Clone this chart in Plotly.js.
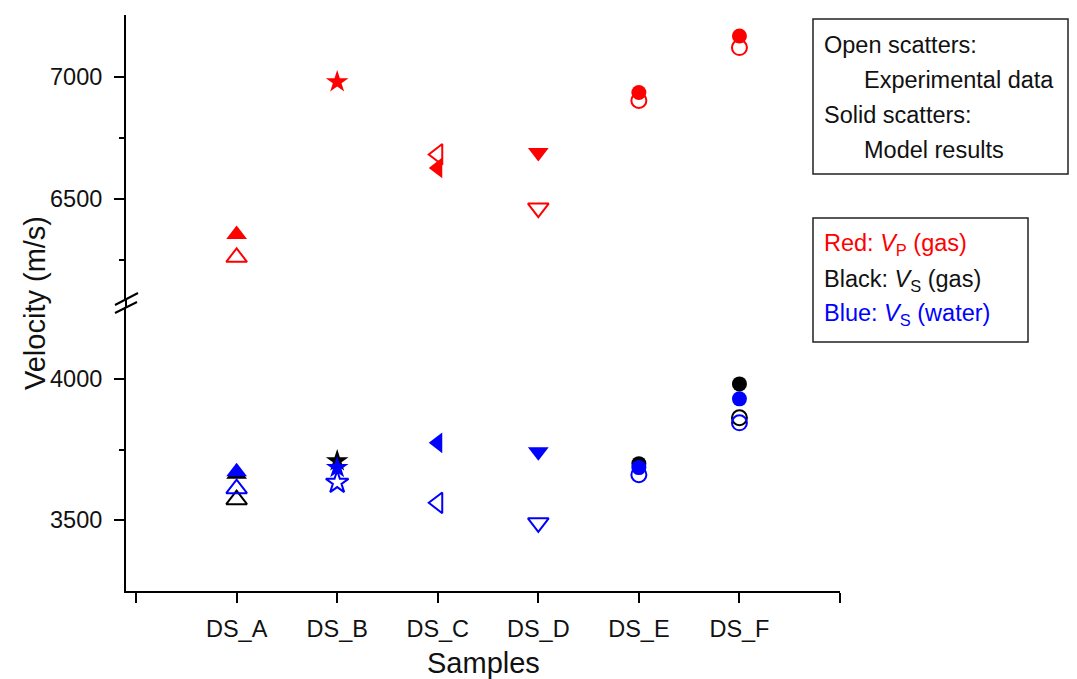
<!DOCTYPE html>
<html>
<head>
<meta charset="utf-8">
<script src="https://cdn.plot.ly/plotly-3.0.1.min.js"></script>
<style>html,body{margin:0;padding:0;background:#fff;}#chart{width:1077px;height:679px;}</style>
</head>
<body>
<div id="chart"></div>
<script>
// ---- data ----
const categories = ['DS_A', 'DS_B', 'DS_C', 'DS_D', 'DS_E', 'DS_F'];
const sampleSymbols = ['triangle-up', 'star', 'triangle-left', 'triangle-down', 'circle', 'circle'];
const xEdgeTicks = [0, 7];
// Red: Vp (gas)
const vpGasExp   = [6262, null, 6682, 6463, 6902, 7118];
const vpGasModel = [6355, 6978, 6627, 6690, 6935, 7165];
// Black: Vs (gas)
const vsGasExp   = [3572, null, null, null, null, 3863];
const vsGasModel = [3662, 3710, null, null, 3700, 3983];
// Blue: Vs (water)
const vsWaterExp   = [3611, 3633, 3561, 3490, 3661, 3845];
const vsWaterModel = [3671, 3686, 3774, 3742, 3686, 3930];
const upperTicks = [6500, 7000];
const upperMinor = [6250, 6750];
const lowerTicks = [3500, 4000];
const lowerMinor = [3750];

// ---- layout helpers ----
const W = 1077, H = 679;
const M = {l: 126, r: 237, t: 15, b: 88};
const PW = W - M.l - M.r, PH = H - M.t - M.b;
const px = x => (x - M.l) / PW;
const py = y => (H - M.b - y) / PH;

const xs = categories.map((c, i) => i + 1);
const RED = '#ff0000', BLACK = '#000000', BLUE = '#0000ff';

function series(vals, color, open, yaxis) {
  return {
    type: 'scatter', mode: 'markers', x: xs, y: vals, yaxis: yaxis,
    showlegend: false, hoverinfo: 'skip', cliponaxis: false,
    marker: {
      symbol: sampleSymbols.map(s => open ? s + '-open' : s),
      size: sampleSymbols.map(s => s === 'circle' ? 15 : (s === 'star' ? 17 : 18)),
      color: color, opacity: 1,
      line: {width: open ? 2 : 0, color: color}
    }
  };
}

const data = [
  series(vsGasExp, BLACK, true, 'y'),
  series(vsGasModel, BLACK, false, 'y'),
  series(vsWaterExp, BLUE, true, 'y'),
  series(vsWaterModel, BLUE, false, 'y'),
  series(vpGasExp, RED, true, 'y2'),
  series(vpGasModel, RED, false, 'y2')
];

const FONT = '"Liberation Sans", Arial, "DejaVu Sans", sans-serif';
const TICKFONT = {family: FONT, size: 23.5, color: '#111'};
const yCommon = {
  showline: true, linecolor: '#000', linewidth: 2,
  ticks: 'outside', ticklen: 10, tickwidth: 2, tickcolor: '#000',
  showgrid: false, zeroline: false, tickmode: 'array',
  tickfont: TICKFONT, ticklabelstandoff: 7, anchor: 'x', fixedrange: true
};

const shapes = [
  // axis segment across the break
  {type: 'line', xref: 'paper', yref: 'paper', x0: 0, x1: 0, y0: py(307), y1: py(299), line: {color: '#000', width: 2}},
  // break marks
  {type: 'line', xref: 'paper', yref: 'paper', x0: px(115), y0: py(305), x1: px(138), y1: py(293), line: {color: '#000', width: 2}},
  {type: 'line', xref: 'paper', yref: 'paper', x0: px(115), y0: py(313), x1: px(137), y1: py(302), line: {color: '#000', width: 2}},
  // legend boxes
  {type: 'rect', xref: 'paper', yref: 'paper', x0: px(813), x1: px(1068), y0: py(174), y1: py(19), line: {color: '#222', width: 1.5}},
  {type: 'rect', xref: 'paper', yref: 'paper', x0: px(813), x1: px(1028), y0: py(342), y1: py(218), line: {color: '#222', width: 1.5}}
];

function note(text, x, y, color) {
  return {
    text: text, xref: 'paper', yref: 'paper', x: px(x), y: py(y),
    xanchor: 'left', yanchor: 'middle', showarrow: false,
    font: {family: FONT, size: 23.5, color: color}
  };
}

const annotations = [
  note('Open scatters:', 822, 45, '#111'),
  note('Experimental data', 862, 80, '#111'),
  note('Solid scatters:', 822, 115, '#111'),
  note('Model results', 862, 150, '#111'),
  note('Red: <i>V</i><sub>P</sub> (gas)', 822, 244, RED),
  note('Black: <i>V</i><sub>S</sub> (gas)', 822, 280, '#111'),
  note('Blue: <i>V</i><sub>S</sub> (water)', 822, 315, BLUE),
  {text: 'Velocity (m/s)', xref: 'paper', yref: 'paper', x: px(35), y: py(303),
   xanchor: 'center', yanchor: 'middle', textangle: -90, showarrow: false,
   font: {family: FONT, size: 29, color: '#111'}},
  {text: 'Samples', xref: 'paper', yref: 'paper', x: px(483), y: py(663),
   xanchor: 'center', yanchor: 'middle', showarrow: false,
   font: {family: FONT, size: 29, color: '#111'}}
];

const layout = {
  width: W, height: H,
  margin: M,
  paper_bgcolor: '#fff', plot_bgcolor: '#fff',
  showlegend: false,
  font: {family: FONT, color: '#111'},
  xaxis: {
    range: [-0.1, 7], showline: true, linecolor: '#000', linewidth: 2,
    ticks: 'outside', ticklen: 10, tickwidth: 2, tickcolor: '#000',
    tickmode: 'array', tickvals: xs, ticktext: categories,
    minor: {tickmode: 'array', tickvals: xEdgeTicks, ticks: 'outside', ticklen: 10, tickwidth: 2, tickcolor: '#000', showgrid: false},
    showgrid: false, zeroline: false, anchor: 'y',
    tickfont: TICKFONT, ticklabelstandoff: 6, fixedrange: true
  },
  yaxis: Object.assign({}, yCommon, {
    domain: [0, py(307)], range: [3248, 4256], tickvals: lowerTicks,
    minor: {tickmode: 'array', tickvals: lowerMinor, ticks: 'outside', ticklen: 5, tickwidth: 2, tickcolor: '#000', showgrid: false}
  }),
  yaxis2: Object.assign({}, yCommon, {
    domain: [py(299), 1], range: [6092, 7251], tickvals: upperTicks,
    minor: {tickmode: 'array', tickvals: upperMinor, ticks: 'outside', ticklen: 5, tickwidth: 2, tickcolor: '#000', showgrid: false}
  }),
  shapes: shapes,
  annotations: annotations
};

Plotly.newPlot('chart', data, layout, {displayModeBar: false, staticPlot: true});
</script>
</body>
</html>
